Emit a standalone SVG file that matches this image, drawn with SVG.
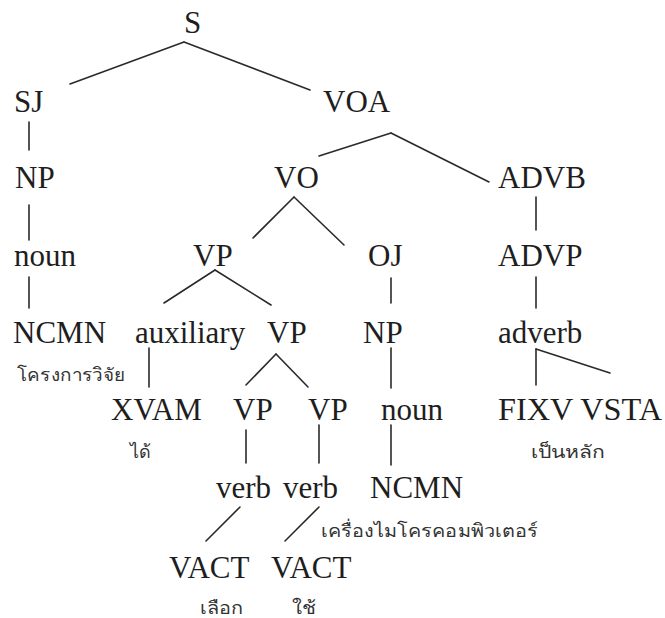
<svg xmlns="http://www.w3.org/2000/svg" width="665" height="618" viewBox="0 0 665 618">
  <style>
    .lbl { font-family: "Liberation Serif", "Times New Roman", serif; font-size: 31px; fill: #1e1e1e; }
    .th { font-family: "Noto Sans", "DejaVu Sans", sans-serif; font-size: 18px; fill: #333; }
    .edge { stroke: #2a2a2a; stroke-width: 1.6; fill: none; stroke-linecap: round; }
  </style>
  <rect width="665" height="618" fill="#ffffff"/>

  <!-- tree branches -->
  <g id="connectors" class="edge">
    <line x1="184" y1="42" x2="70" y2="84"/>
    <line x1="184" y1="42" x2="310" y2="90"/>
    <line x1="29" y1="122" x2="29" y2="150"/>
    <line x1="391" y1="133" x2="319" y2="156"/>
    <line x1="391" y1="133" x2="489" y2="182"/>
    <line x1="29" y1="205" x2="29" y2="240"/>
    <line x1="294" y1="197" x2="253" y2="238"/>
    <line x1="294" y1="197" x2="344" y2="245"/>
    <line x1="536" y1="197" x2="536" y2="230"/>
    <line x1="29" y1="277" x2="29" y2="308"/>
    <line x1="215" y1="270" x2="164" y2="303"/>
    <line x1="215" y1="270" x2="271" y2="305"/>
    <line x1="391" y1="278" x2="391" y2="303"/>
    <line x1="536" y1="277" x2="536" y2="308"/>
    <line x1="149" y1="348" x2="149" y2="387"/>
    <line x1="276" y1="354" x2="246" y2="385"/>
    <line x1="276" y1="354" x2="308" y2="387"/>
    <line x1="391" y1="348" x2="391" y2="388"/>
    <line x1="536" y1="349" x2="536" y2="385"/>
    <line x1="536" y1="349" x2="610" y2="373"/>
    <line x1="246" y1="430" x2="246" y2="463"/>
    <line x1="319" y1="425" x2="319" y2="463"/>
    <line x1="391" y1="425" x2="391" y2="465"/>
    <line x1="240" y1="507" x2="206" y2="541"/>
    <line x1="319" y1="507" x2="285" y2="541"/>
  </g>

  <g id="n-S"><text class="lbl" x="184" y="33">S</text></g>
  <g id="n-SJ"><text class="lbl" x="14" y="112">SJ</text></g>
  <g id="n-VOA"><text class="lbl" x="323" y="112">VOA</text></g>
  <g id="n-NP1"><text class="lbl" x="15" y="188">NP</text></g>
  <g id="n-VO"><text class="lbl" x="274" y="188">VO</text></g>
  <g id="n-ADVB"><text class="lbl" x="498" y="188">ADVB</text></g>
  <g id="n-noun1"><text class="lbl" x="14" y="266">noun</text></g>
  <g id="n-VP1"><text class="lbl" x="193" y="266">VP</text></g>
  <g id="n-OJ"><text class="lbl" x="368" y="266">OJ</text></g>
  <g id="n-ADVP"><text class="lbl" x="498" y="266">ADVP</text></g>
  <g id="n-NCMN1">
    <text class="lbl" x="13" y="343">NCMN</text>
    <text class="th" x="17" y="381" textLength="109" lengthAdjust="spacingAndGlyphs">โครงการวิจัย</text>
  </g>
  <g id="n-auxiliary"><text class="lbl" x="135" y="343">auxiliary</text></g>
  <g id="n-VP2"><text class="lbl" x="267" y="343">VP</text></g>
  <g id="n-NP2"><text class="lbl" x="363" y="343">NP</text></g>
  <g id="n-adverb"><text class="lbl" x="498" y="343">adverb</text></g>
  <g id="n-XVAM">
    <text class="lbl" x="111" y="420">XVAM</text>
    <text class="th" x="130" y="458" textLength="21" lengthAdjust="spacingAndGlyphs">ได้</text>
  </g>
  <g id="n-VP3"><text class="lbl" x="233" y="420">VP</text></g>
  <g id="n-VP4"><text class="lbl" x="308" y="420">VP</text></g>
  <g id="n-noun2"><text class="lbl" x="381" y="420">noun</text></g>
  <g id="n-FIXV-VSTA">
    <text class="lbl" x="498" y="420" textLength="164" lengthAdjust="spacingAndGlyphs">FIXV VSTA</text>
    <text class="th" x="531" y="458" textLength="74" lengthAdjust="spacingAndGlyphs">เป็นหลัก</text>
  </g>
  <g id="n-verb1"><text class="lbl" x="216" y="498">verb</text></g>
  <g id="n-verb2"><text class="lbl" x="283" y="498">verb</text></g>
  <g id="n-NCMN2">
    <text class="lbl" x="370" y="498">NCMN</text>
    <text class="th" x="321" y="537" textLength="217" lengthAdjust="spacingAndGlyphs">เครื่องไมโครคอมพิวเตอร์</text>
  </g>
  <g id="n-VACT1">
    <text class="lbl" x="169" y="578">VACT</text>
    <text class="th" x="200" y="614" textLength="43" lengthAdjust="spacingAndGlyphs">เลือก</text>
  </g>
  <g id="n-VACT2">
    <text class="lbl" x="271" y="578">VACT</text>
    <text class="th" x="292" y="614" textLength="24" lengthAdjust="spacingAndGlyphs">ใช้</text>
  </g>
</svg>
